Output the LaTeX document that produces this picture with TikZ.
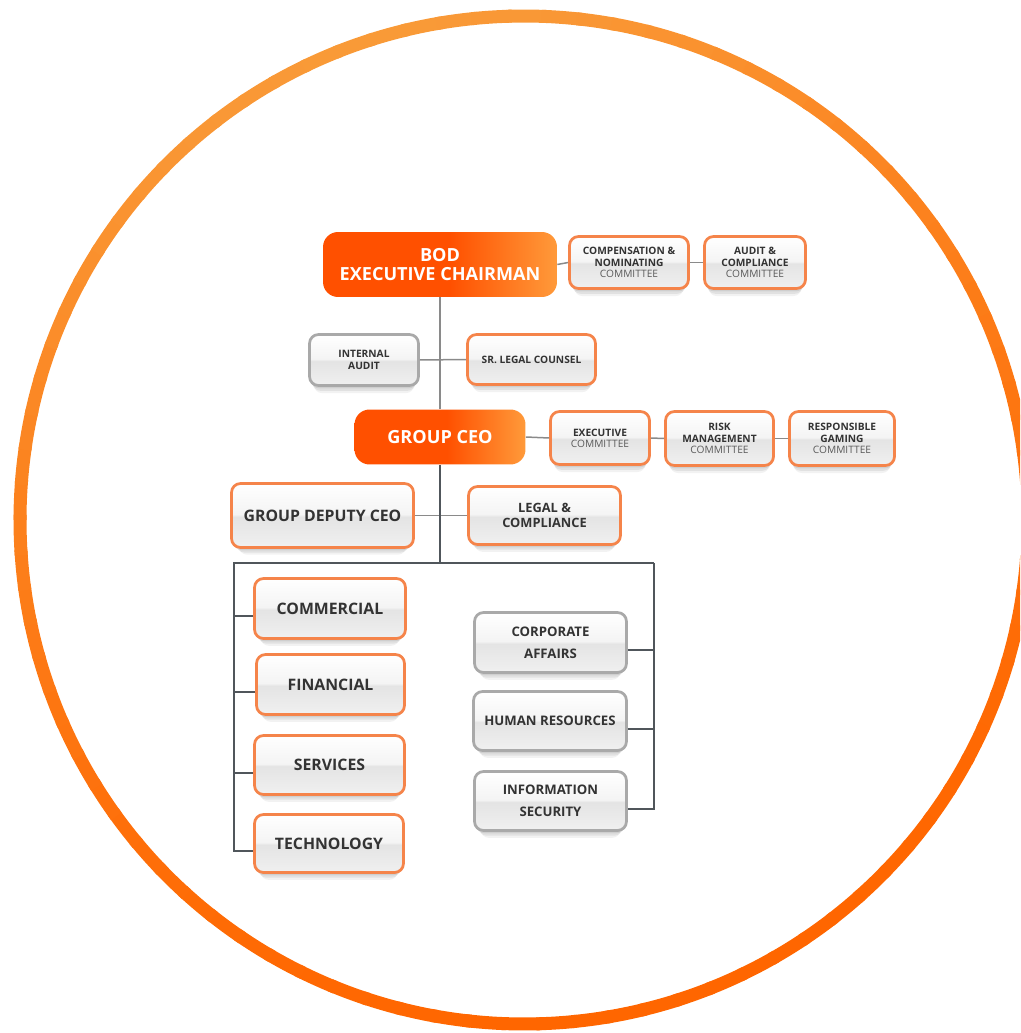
\documentclass[tikz,border=0pt]{standalone}
\usepackage{fontspec}
\setmainfont{Open Sans}
\usetikzlibrary{shadows}

\definecolor{ringlight}{HTML}{F99A38}
\definecolor{ringdark}{HTML}{FF6600}
\definecolor{headA}{HTML}{FF5000}
\definecolor{headB}{HTML}{FF9A3A}
\definecolor{rimorange}{HTML}{F5844A}
\definecolor{rimgray}{HTML}{A9A9A9}
\definecolor{inkdark}{HTML}{333333}
\definecolor{inksoft}{HTML}{5A5A5A}
\definecolor{wiregray}{HTML}{8A8A8A}
\definecolor{wiredark}{HTML}{50565B}
\definecolor{glosstop}{HTML}{F4F4F4}
\definecolor{glossmid}{HTML}{E4E4E4}
\definecolor{glossbot}{HTML}{F0F0F0}

\pgfdeclareverticalshading{gloss}{100bp}{color(0bp)=(glossbot); color(25bp)=(glossbot); color(49bp)=(glossmid); color(51bp)=(glosstop); color(75bp)=(white); color(100bp)=(white)}
\pgfdeclarehorizontalshading{headfill}{100bp}{color(0bp)=(headA); color(25bp)=(headA); color(52bp)=(headA); color(75bp)=(headB); color(100bp)=(headB)}

\newcommand\cmtline{{\mdseries\color{inksoft}COMMITTEE}}

\begin{document}
\begin{tikzpicture}[x=0.02cm, y=-0.02cm,
	unitbox/.style={rounded corners=0.18cm, shading=gloss, draw=rimorange, line width=0.055cm, align=center, text=inkdark, inner sep=2pt,
		drop shadow={shadow xshift=0pt, shadow yshift=-6pt, shadow scale=.92, opacity=.05, fill=black},
		drop shadow={shadow xshift=0pt, shadow yshift=-4pt, shadow scale=.95, opacity=.07, fill=black},
		drop shadow={shadow xshift=0pt, shadow yshift=-2pt, shadow scale=.98, opacity=.08, fill=black}},
	graybox/.style={unitbox, draw=rimgray},
	headbox/.style={rounded corners=0.3cm, shading=headfill, align=center, text=white, font=\fontsize{10.3}{11}\selectfont\bfseries},
	txtsmall/.style={font=\fontsize{5.8}{6.4}\selectfont\bfseries},
	txtmid/.style={font=\fontsize{7.3}{8.6}\selectfont\bfseries},
	txtwide/.style={font=\fontsize{7.5}{12.4}\selectfont\bfseries},
	txtbig/.style={font=\fontsize{9}{11}\selectfont\bfseries},
	wire/.style={wiregray, line width=0.03cm},
	trunk/.style={wiredark, line width=0.04cm}]
	\useasboundingbox (0,0) rectangle (1020,1033);
	\clip (0,0) rectangle (1020,1033);

	% ring
	\coordinate (ringc) at (524,520);
	\foreach \a in {0,4,...,356}{
		\pgfmathtruncatemacro\ringmix{100*((1+cos(\a-250))/2)^1.5}
		\draw[ringlight!\ringmix!ringdark, line width=0.26cm] (ringc) ++(\a:504) arc[start angle=\a, end angle=\a+4.6, radius=504];
	}

	% board level
	\node[headbox, minimum width=4.68cm, minimum height=1.30cm] (bod) at (440,264.5) {BOD\\EXECUTIVE CHAIRMAN};
	\node[unitbox, txtsmall, minimum width=2.38cm, minimum height=1.04cm] (comp) at (629,262.5) {COMPENSATION \&\\NOMINATING\\\cmtline};
	\node[unitbox, txtsmall, minimum width=2.02cm, minimum height=1.04cm] (auditc) at (755,262.5) {AUDIT \&\\COMPLIANCE\\\cmtline};
	\node[graybox, txtsmall, minimum width=2.18cm, minimum height=1.02cm] (intaudit) at (364,360) {INTERNAL\\AUDIT};
	\node[unitbox, txtsmall, minimum width=2.56cm, minimum height=1.00cm] (srlegal) at (531.5,359.5) {SR. LEGAL COUNSEL};

	% ceo level
	\node[headbox, minimum width=3.42cm, minimum height=1.10cm] (ceo) at (440,437) {GROUP CEO};
	\node[unitbox, txtsmall, minimum width=1.98cm, minimum height=1.06cm] (exec) at (600,438) {EXECUTIVE\\\cmtline};
	\node[unitbox, txtsmall, minimum width=2.16cm, minimum height=1.08cm] (risk) at (719.5,438.5) {RISK\\MANAGEMENT\\\cmtline};
	\node[unitbox, txtsmall, minimum width=2.10cm, minimum height=1.08cm] (gaming) at (842,438.5) {RESPONSIBLE\\GAMING\\\cmtline};
	\node[unitbox, txtbig, minimum width=3.64cm, minimum height=1.28cm] (deputy) at (322.5,515.5) {GROUP DEPUTY CEO};
	\node[unitbox, txtmid, minimum width=3.04cm, minimum height=1.16cm] (legal) at (544.5,515.5) {LEGAL \&\\COMPLIANCE};

	% divisions
	\node[unitbox, txtbig, minimum width=3.02cm, minimum height=1.20cm] (commercial) at (330,608.5) {COMMERCIAL};
	\node[unitbox, txtbig, minimum width=2.96cm, minimum height=1.20cm] (financial) at (330.5,684.5) {FINANCIAL};
	\node[unitbox, txtbig, minimum width=3.00cm, minimum height=1.18cm] (services) at (329.5,765) {SERVICES};
	\node[unitbox, txtbig, minimum width=2.98cm, minimum height=1.16cm] (technology) at (329,843.5) {TECHNOLOGY};
	\node[graybox, txtwide, minimum width=3.04cm, minimum height=1.20cm] (corporate) at (550.5,642.5) {CORPORATE\\AFFAIRS};
	\node[graybox, txtwide, minimum width=3.06cm, minimum height=1.18cm] (hr) at (550,721) {HUMAN RESOURCES};
	\node[graybox, txtwide, minimum width=3.04cm, minimum height=1.18cm] (infosec) at (550.5,801) {INFORMATION\\SECURITY};

	% connectors
	\draw[wire] (bod.east) -- (comp.west);
	\draw[wire] (comp.east) -- (auditc.west);
	\draw[wire] (bod.south) -- (ceo.north);
	\draw[wire] (intaudit.east) -- (srlegal.west);
	\draw[wire] (ceo.east) -- (exec.west);
	\draw[wire] (exec.east) -- (risk.west);
	\draw[wire] (risk.east) -- (gaming.west);
	\draw[wire] (deputy.east) -- (legal.west);

	\coordinate (busL) at (234,563);
	\coordinate (busR) at (654,563);
	\draw[trunk] (ceo.south) -- (ceo.south |- busL);
	\draw[trunk] (busR) -- (busL) |- ([yshift=-4.5pt]technology.west);
	\foreach \n in {commercial,financial,services}
		\draw[trunk] ([yshift=-4.5pt]\n.west) -| (busL);
	\draw[trunk] (busR) |- ([yshift=-4.5pt]infosec.east);
	\foreach \n in {corporate,hr}
		\draw[trunk] ([yshift=-4.5pt]\n.east) -| (busR);
\end{tikzpicture}
\end{document}
